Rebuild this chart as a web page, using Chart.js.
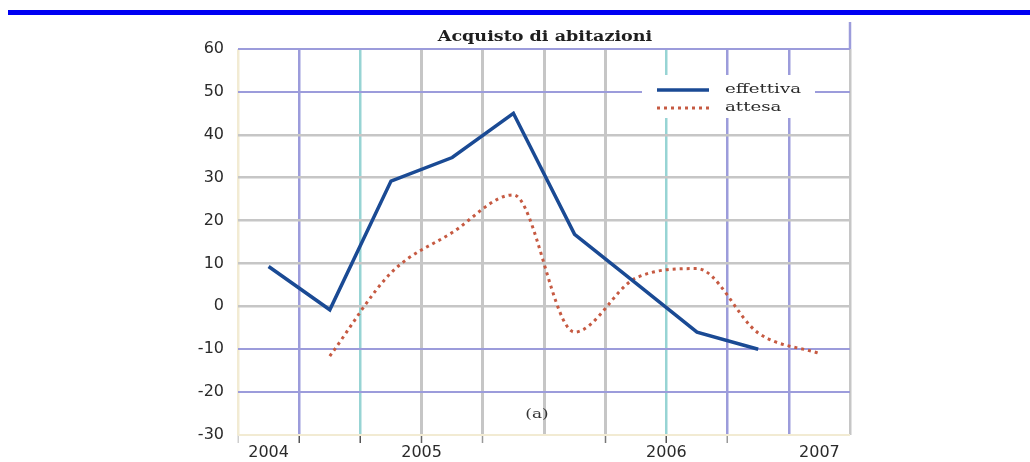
<!DOCTYPE html>
<html>
<head>
<meta charset="utf-8">
<script src="https://cdn.jsdelivr.net/npm/chart.js@4.4.1/dist/chart.umd.min.js"></script>
<style>
  html, body { margin: 0; padding: 0; background: #fff; }
  #wrap { position: relative; width: 1030px; height: 462px; }
</style>
</head>
<body>
<div id="wrap"><canvas id="c" width="1030" height="462"></canvas></div>
<script>
// Ten time slots across 2004-2007
const periods = ['p1', 'p2', 'p3', 'p4', 'p5', 'p6', 'p7', 'p8', 'p9', 'p10'];

// Balance of answers on house purchases
const effettiva = [9.3, -0.8, 29.2, 34.7, 45, 16.8, 5.4, -6, -10, null];
const attesa    = [null, -11.6, 7.8, 17.2, 26, -6, 6.6, 8.8, -6.2, -11];

// Y axis ticks
const yMin = -30, yMax = 60, yStep = 10;

// Year labels on the time axis and the slot they sit on
const yearLabels = ['2004', '2005', '2006', '2007'];
const yearTickAt = [0, 2.5, 6.5, 9];

const chartTitle = 'Acquisto di abitazioni';
const panelTag = '(a)';

const PURPLE = '#9c9cdb';
const TEAL = '#97d4d4';
const GRAY = '#c6c6c6';
const EDGE = '#f2ebd3';

const vLineColors = [EDGE, PURPLE, TEAL, GRAY, GRAY, GRAY, GRAY, TEAL, PURPLE, PURPLE, PURPLE];
const hLineColors = [EDGE, PURPLE, PURPLE, GRAY, GRAY, GRAY, GRAY, GRAY, PURPLE, PURPLE];
const tickMarkColors = ['#cfcfcf', '#555', '#555', '#666', '#999', 'rgba(0,0,0,0)', '#777', '#555', '#999', 'rgba(0,0,0,0)', '#cfcfcf'];

function stretchedText(ctx, text, x, y, align, stretch) {
  ctx.save();
  ctx.translate(x, y);
  ctx.scale(stretch, 1);
  ctx.textAlign = align;
  ctx.fillText(text, 0, 0);
  ctx.restore();
}

const decor = {
  id: 'decor',
  beforeDraw(chart) {
    const { ctx, chartArea: a } = chart;
    ctx.save();
    ctx.fillStyle = '#fff';
    ctx.fillRect(0, 0, chart.width, chart.height);
    // blue rule across the page
    ctx.fillStyle = '#0000f2';
    ctx.fillRect(8, 10, chart.width - 8, 5);
    // right frame line rising above the plot
    ctx.strokeStyle = PURPLE;
    ctx.lineWidth = 2.5;
    ctx.beginPath();
    ctx.moveTo(a.right, 22);
    ctx.lineTo(a.right, a.top);
    ctx.stroke();
    ctx.restore();
  },
  afterDatasetsDraw(chart) {
    const { ctx, chartArea: a } = chart;
    ctx.save();
    // legend box
    const x0 = a.right - 208, y0 = a.top + 26;
    ctx.fillStyle = '#fff';
    ctx.fillRect(x0, y0, 173, 43);
    chart.data.datasets.forEach((ds, i) => {
      const yy = y0 + 15 + i * 18;
      ctx.strokeStyle = ds.borderColor;
      ctx.lineWidth = ds.borderWidth;
      ctx.setLineDash(ds.borderDash || []);
      ctx.lineCap = 'butt';
      ctx.beginPath();
      ctx.moveTo(x0 + 15, yy);
      ctx.lineTo(x0 + 67, yy);
      ctx.stroke();
      ctx.setLineDash([]);
      ctx.fillStyle = '#2a2a2a';
      ctx.font = '13px "DejaVu Serif"';
      ctx.textBaseline = 'middle';
      stretchedText(ctx, ds.label, x0 + 83, yy, 'left', 1.4);
    });
    ctx.restore();
  },
  afterDraw(chart) {
    const { ctx, chartArea: a } = chart;
    ctx.save();
    ctx.fillStyle = '#1e1e1e';
    ctx.textBaseline = 'alphabetic';
    ctx.font = 'bold 15px "DejaVu Serif"';
    stretchedText(ctx, chartTitle, (a.left + a.right) / 2 + 1, 41, 'center', 1.17);
    ctx.fillStyle = '#333';
    ctx.font = '13px "DejaVu Serif"';
    ctx.textBaseline = 'middle';
    stretchedText(ctx, panelTag, (a.left + a.right) / 2 - 7, a.bottom - 20, 'center', 1.3);
    ctx.restore();
  }
};

new Chart(document.getElementById('c'), {
  type: 'line',
  data: {
    labels: periods,
    datasets: [
      {
        label: 'effettiva',
        data: effettiva,
        borderColor: '#1a4a94',
        borderWidth: 3.5,
        pointRadius: 0,
        tension: 0,
        spanGaps: false
      },
      {
        label: 'attesa',
        data: attesa,
        borderColor: '#c65a42',
        borderWidth: 3,
        borderDash: [3, 4],
        pointRadius: 0,
        cubicInterpolationMode: 'monotone'
      }
    ]
  },
  options: {
    responsive: false,
    devicePixelRatio: 1,
    animation: false,
    layout: { padding: { left: 0, right: 180, top: 49, bottom: 0 } },
    plugins: {
      legend: { display: false },
      title: { display: false },
      tooltip: { enabled: false }
    },
    scales: {
      x: {
        type: 'category',
        offset: true,
        weight: 0,
        border: { display: false },
        grid: {
          offset: true,
          drawTicks: true,
          tickLength: 8,
          color: c => vLineColors[c.index] || GRAY,
          lineWidth: c => (vLineColors[c.index] === GRAY ? 3 : 2.5),
          tickColor: c => tickMarkColors[c.index] || 'rgba(0,0,0,0)',
          tickWidth: 1.5
        },
        ticks: { display: false },
        afterFit: s => { s.height = 8; }
      },
      years: {
        type: 'linear',
        position: 'bottom',
        weight: 1,
        min: -0.5,
        max: 9.5,
        border: { display: false },
        grid: { display: false, drawTicks: false },
        afterBuildTicks: s => { s.ticks = yearTickAt.map(v => ({ value: v })); },
        ticks: {
          autoSkip: false,
          maxRotation: 0,
          padding: 0,
          color: '#2a2a2a',
          font: { family: '"DejaVu Sans"', size: 16 },
          callback: (v, i) => yearLabels[i]
        },
        afterFit: s => { s.height = 19; }
      },
      y: {
        min: yMin,
        max: yMax,
        border: { display: false },
        grid: {
          drawTicks: false,
          color: c => hLineColors[c.index] || GRAY,
          lineWidth: c => (hLineColors[c.index] === GRAY ? 2.5 : 2)
        },
        ticks: {
          stepSize: yStep,
          padding: 14,
          color: '#2a2a2a',
          font: { family: '"DejaVu Sans"', size: 16 }
        },
        afterFit: s => { s.width = 238; }
      }
    }
  },
  plugins: [decor]
});
</script>
</body>
</html>
